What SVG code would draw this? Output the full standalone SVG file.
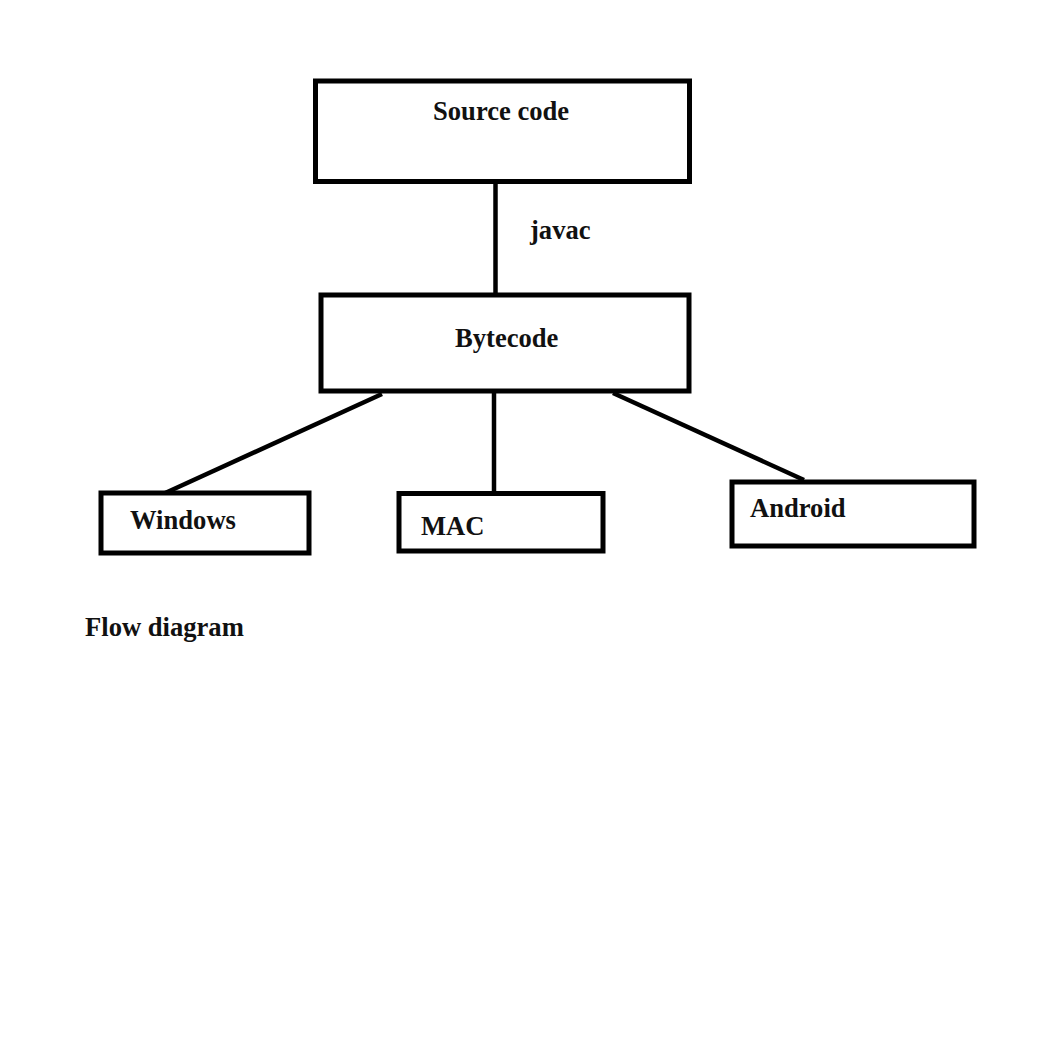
<svg xmlns="http://www.w3.org/2000/svg" width="1040" height="1040" viewBox="0 0 1040 1040">
<style>
.box{fill:#fff;stroke:#000;stroke-width:5}
.lbl{font-family:"Liberation Serif","Times New Roman",serif;font-weight:bold;font-size:26.6px;fill:#111}
.conn line{stroke:#000;stroke-width:4.5}
</style>
<rect width="1040" height="1040" fill="#fff"/>
<g id="connectors" class="conn">
<line x1="495.5" y1="183" x2="495.5" y2="294"/>
<line x1="382" y1="394" x2="163" y2="494"/>
<line x1="494" y1="393" x2="494" y2="491"/>
<line x1="613" y1="393" x2="804" y2="480"/>
</g>
<g id="source-code">
<rect class="box" x="315.5" y="81" width="374" height="100.5"/>
<text class="lbl" x="433" y="120">Source code</text>
</g>
<g id="javac-label">
<text class="lbl" x="530" y="239">javac</text>
</g>
<g id="bytecode">
<rect class="box" x="321" y="295" width="368" height="96"/>
<text class="lbl" x="455" y="347">Bytecode</text>
</g>
<g id="windows">
<rect class="box" x="101" y="493" width="208" height="60"/>
<text class="lbl" x="130" y="529">Windows</text>
</g>
<g id="mac">
<rect class="box" x="399" y="493.5" width="204" height="57.5"/>
<text class="lbl" x="421" y="535">MAC</text>
</g>
<g id="android">
<rect class="box" x="732" y="482" width="242" height="64"/>
<text class="lbl" x="750" y="517">Android</text>
</g>
<g id="caption">
<text class="lbl" x="85" y="636">Flow diagram</text>
</g>
</svg>
